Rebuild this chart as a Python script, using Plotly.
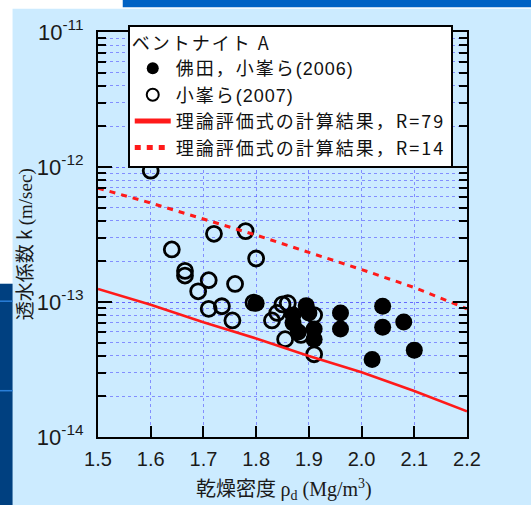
import plotly.graph_objects as go

# Hydraulic conductivity of bentonite A versus dry density
rho_2006 = [1.80, 1.87, 1.87, 1.88, 1.895, 1.90, 1.91, 1.91, 1.96, 1.96,
            2.02, 2.04, 2.04, 2.08, 2.10]
k_2006 = [9.8e-14, 8.0e-14, 7.0e-14, 6.0e-14, 9.4e-14, 8.3e-14, 6.3e-14, 5.3e-14,
          8.3e-14, 6.3e-14, 3.75e-14, 9.3e-14, 6.5e-14, 7.1e-14, 4.4e-14]

rho_2007 = [1.60, 1.72, 1.78, 1.64, 1.80, 1.665, 1.665, 1.71, 1.76, 1.69, 1.71,
            1.735, 1.755, 1.795, 1.83, 1.84, 1.85, 1.86, 1.855, 1.885, 1.91, 1.91]
k_2007 = [9.4e-13, 3.2e-13, 3.35e-13, 2.45e-13, 2.1e-13, 1.7e-13, 1.57e-13, 1.45e-13,
          1.36e-13, 1.2e-13, 8.9e-14, 9.3e-14, 7.3e-14, 9.9e-14, 7.3e-14, 8.3e-14,
          9.6e-14, 9.8e-14, 5.3e-14, 5.7e-14, 8.0e-14, 4.1e-14]

# Theoretical curves
rho_calc = [1.5, 1.6, 1.7, 1.8, 1.9, 2.0, 2.1, 2.2]
k_calc_r79 = [1.25e-13, 9.55e-14, 7.08e-14, 5.37e-14, 3.98e-14, 3.02e-14, 2.19e-14, 1.55e-14]
k_calc_r14 = [6.98e-13, 5.41e-13, 4.12e-13, 3.13e-13, 2.33e-13, 1.74e-13, 1.28e-13, 8.9e-14]

x_ticks = [1.5, 1.6, 1.7, 1.8, 1.9, 2.0, 2.1, 2.2]
y_ticks = [1e-14, 1e-13, 1e-12, 1e-11]
y_tick_text = ["10<sup>-14</sup>", "10<sup>-13</sup>", "10<sup>-12</sup>", "10<sup>-11</sup>"]

CJK = "Noto Sans CJK JP"
SANS = "Liberation Sans"
SERIF = "Liberation Serif"
PANEL = "#CCEBFF"
GRID = "rgba(80,80,255,0.6)"


def spaced(text):
    return '<span style="letter-spacing:2px">%s</span>' % text


def year(text):
    return '<span style="font-family:%s;letter-spacing:1px">%s</span>' % (SANS, text)


fig = go.Figure()

fig.add_trace(go.Scatter(
    x=rho_2006, y=k_2006, mode="markers", name=spaced("佛田，小峯ら") + year("(2006)"),
    marker=dict(symbol="circle", size=17, color="black", line=dict(width=0)),
))
fig.add_trace(go.Scatter(
    x=rho_2007, y=k_2007, mode="markers", name=spaced("小峯ら") + year("(2007)"),
    marker=dict(symbol="circle", size=15, color="rgba(0,0,0,0)",
                line=dict(width=2.8, color="black")),
))
fig.add_trace(go.Scatter(
    x=rho_calc, y=k_calc_r79, mode="lines", name=spaced("理論評価式の計算結果，R=79"),
    line=dict(color="#FF1A1A", width=2.5),
))
fig.add_trace(go.Scatter(
    x=rho_calc, y=k_calc_r14, mode="lines", name=spaced("理論評価式の計算結果，R=14"),
    line=dict(color="#FF1A1A", width=3, dash="6px,6px"),
))

# page decoration: header bar and side strip
plot_l, plot_r, plot_t, plot_b = 98.3, 466.7, 32.3, 437.3
W, H = 531, 505


def px(x):
    return (x - plot_l) / (plot_r - plot_l)


def py(y):
    return (plot_b - y) / (plot_b - plot_t)


shapes = [
    dict(type="rect", xref="paper", yref="paper", x0=px(0), x1=px(W), y0=py(9), y1=py(-2),
         fillcolor="white", line=dict(width=0), layer="below"),
    dict(type="rect", xref="paper", yref="paper", x0=px(123), x1=px(W + 2), y0=py(7.5), y1=py(-2),
         fillcolor="#0062C4", line=dict(width=0), layer="below"),
    dict(type="rect", xref="paper", yref="paper", x0=px(-2), x1=px(13), y0=py(284), y1=py(-2),
         fillcolor="white", line=dict(width=0), layer="below"),
    dict(type="rect", xref="paper", yref="paper", x0=px(-2), x1=px(13), y0=py(W), y1=py(284),
         fillcolor="#004080", line=dict(width=0), layer="below"),
    dict(type="line", xref="paper", yref="paper", x0=px(-2), x1=px(13), y0=py(301.5), y1=py(301.5),
         line=dict(color="#2A7FD8", width=1.5), layer="below"),
    dict(type="line", xref="paper", yref="paper", x0=px(-2), x1=px(13), y0=py(391), y1=py(391),
         line=dict(color="#2A7FD8", width=1.5), layer="below"),
]

fig.update_layout(
    width=W, height=H,
    margin=dict(l=plot_l, r=W - plot_r, t=plot_t, b=H - plot_b),
    paper_bgcolor=PANEL, plot_bgcolor=PANEL,
    font=dict(family=SANS, color="#1a1a1a"),
    shapes=shapes,
    showlegend=True,
    legend=dict(
        x=px(128), y=py(25), xanchor="left", yanchor="top",
        bgcolor="white", bordercolor="black", borderwidth=2,
        font=dict(family=CJK, size=18, color="#111"),
        title=dict(text=spaced("ベントナイト A"), font=dict(family=CJK, size=18, color="#111")),
        itemsizing="constant", tracegroupgap=0, itemwidth=36,
    ),
    xaxis=dict(
        range=[1.5, 2.2], tickvals=x_ticks, tickformat=".1f",
        ticks="inside", ticklen=11, tickwidth=2, tickcolor="black",
        showline=True, linewidth=2, linecolor="black", mirror="ticks",
        showgrid=True, gridcolor=GRID, griddash="dot", gridwidth=1,
        tickfont=dict(family=SANS, size=20, color="#1a1a1a"),
        ticklabelstandoff=3, zeroline=False,
    ),
    yaxis=dict(
        type="log", range=[-14, -11], tickvals=y_ticks, ticktext=y_tick_text,
        ticks="inside", ticklen=14, tickwidth=2, tickcolor="black",
        showline=True, linewidth=2, linecolor="black", mirror="ticks",
        showgrid=True, gridcolor=GRID, griddash="dot", gridwidth=1,
        minor=dict(dtick="D1", ticks="inside", ticklen=8, tickwidth=1.5, tickcolor="black",
                   showgrid=True, gridcolor=GRID, griddash="dot", gridwidth=1),
        tickfont=dict(family=SANS, size=22, color="#1a1a1a"),
        ticklabelstandoff=8, zeroline=False,
    ),
    annotations=[
        dict(text="透水係数 k <span style=\"font-family:%s\">(m/sec)</span>" % SERIF,
             xref="paper", yref="paper", x=px(24), y=py(245), textangle=-90,
             showarrow=False, xanchor="center", yanchor="middle",
             font=dict(family=CJK, size=19, color="#1a1a1a")),
        dict(text="乾燥密度 <span style=\"font-family:%s\">ρ<sub>d</sub> (Mg/m<sup>3</sup>)</span>" % SERIF,
             xref="paper", yref="paper", x=px(284), y=py(488),
             showarrow=False, xanchor="center", yanchor="middle",
             font=dict(family=CJK, size=20, color="#1a1a1a")),
    ],
)

fig.write_html("out.html")
